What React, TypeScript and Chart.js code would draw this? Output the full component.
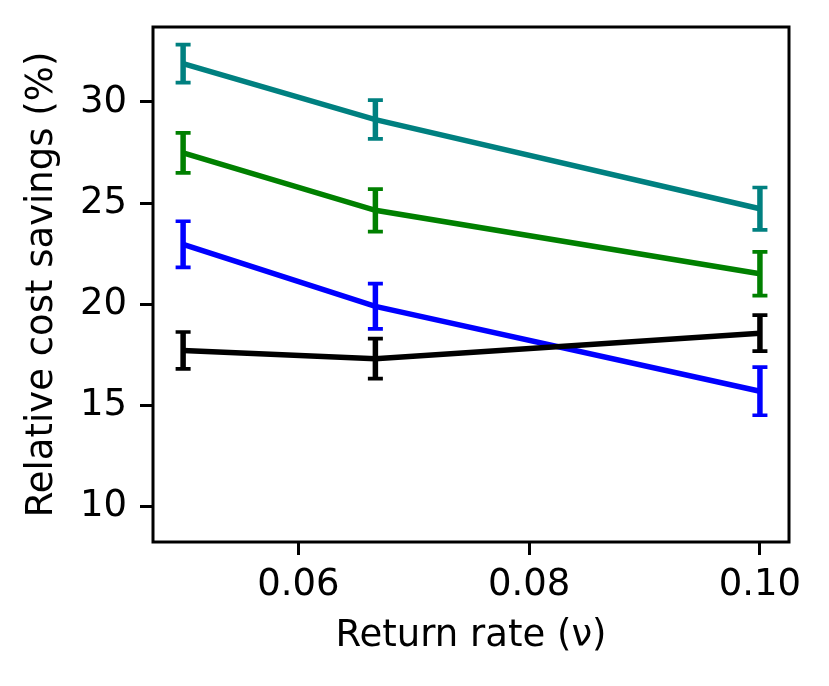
import React, { useRef, useEffect } from 'react';
import Chart from 'chart.js/auto';

// 横轴：回收率
const returnRates = [0.05, 1 / 15, 0.1];

// 各条曲线的均值
const tealSavings = [31.9, 29.13, 24.72];
const greenSavings = [27.48, 24.64, 21.5];
const blueSavings = [22.96, 19.89, 15.69];
const blackSavings = [17.71, 17.3, 18.56];

// 误差棒（±）
const tealErr = [0.94, 0.96, 1.05];
const greenErr = [0.99, 1.05, 1.08];
const blueErr = [1.14, 1.12, 1.19];
const blackErr = [0.91, 0.99, 0.89];

// 刻度
const xTicks = [0.06, 0.08, 0.1];
const yTicks = [10, 15, 20, 25, 30];

const FONT = { family: 'DejaVu Sans', size: 37 };

const series = [
  { color: '#000000', values: blackSavings, err: blackErr },
  { color: '#0000ff', values: blueSavings, err: blueErr },
  { color: '#008000', values: greenSavings, err: greenErr },
  { color: '#008080', values: tealSavings, err: tealErr },
];

// 误差棒插件：每个数据集画完后紧接着画它的误差棒
const errorBarPlugin = {
  id: 'errorBars',
  afterDatasetDraw(chart: any, args: any) {
    const s = series[args.index];
    if (!s) return;
    const { ctx, scales } = chart;
    const xs = scales.x;
    const ys = scales.y;
    ctx.save();
    ctx.strokeStyle = s.color;
    returnRates.forEach((r, i) => {
      const px = xs.getPixelForValue(r);
      const top = ys.getPixelForValue(s.values[i] + s.err[i]);
      const bot = ys.getPixelForValue(s.values[i] - s.err[i]);
      ctx.lineWidth = 5.5;
      ctx.beginPath();
      ctx.moveTo(px, top);
      ctx.lineTo(px, bot);
      ctx.stroke();
      ctx.lineWidth = 3.7;
      ctx.beginPath();
      ctx.moveTo(px - 7.5, top);
      ctx.lineTo(px + 7.5, top);
      ctx.moveTo(px - 7.5, bot);
      ctx.lineTo(px + 7.5, bot);
      ctx.stroke();
    });
    ctx.restore();
  },
};

// 四周边框
const framePlugin = {
  id: 'frame',
  afterDraw(chart: any) {
    const { ctx, chartArea } = chart;
    ctx.save();
    ctx.strokeStyle = '#000';
    ctx.lineWidth = 3;
    ctx.strokeRect(chartArea.left, chartArea.top, chartArea.right - chartArea.left, chartArea.bottom - chartArea.top);
    ctx.restore();
  },
};

const App: React.FC = () => {
  const chartRef = useRef<HTMLCanvasElement>(null);
  const chartInstance = useRef<Chart | null>(null);

  useEffect(() => {
    if (!chartRef.current) return;
    if (chartInstance.current) chartInstance.current.destroy();

    chartInstance.current = new Chart(chartRef.current, {
      type: 'line',
      data: {
        datasets: series.map((s) => ({
          data: returnRates.map((r, i) => ({ x: r, y: s.values[i] })),
          borderColor: s.color,
          borderWidth: 5.5,
          pointRadius: 0,
          tension: 0,
          fill: false,
        })),
      },
      options: {
        responsive: false,
        animation: false,
        layout: { padding: { top: 27, right: 40, left: 0, bottom: 0 } },
        plugins: { legend: { display: false }, tooltip: { enabled: false } },
        scales: {
          x: {
            type: 'linear',
            min: 0.04739,
            max: 0.10252,
            afterBuildTicks: (scale: any) => {
              scale.ticks = xTicks.map((v) => ({ value: v }));
            },
            afterFit: (scale: any) => {
              scale.height = 144;
              scale.paddingLeft = 0;
              scale.paddingRight = 0;
            },
            ticks: {
              font: FONT,
              color: '#000',
              padding: 8,
              maxRotation: 0,
              autoSkip: false,
              callback: (v: any) => Number(v).toFixed(2),
            },
            grid: { drawOnChartArea: false, tickLength: 13, tickWidth: 3, tickColor: '#000' },
            border: { display: false },
            title: {
              display: true,
              text: 'Return rate (ν)',
              font: FONT,
              color: '#000',
              padding: { top: 0, bottom: 27 },
            },
          },
          y: {
            type: 'linear',
            min: 8.23,
            max: 33.71,
            afterBuildTicks: (scale: any) => {
              scale.ticks = yTicks.map((v) => ({ value: v }));
            },
            afterFit: (scale: any) => {
              scale.width = 153;
              scale.paddingTop = 0;
              scale.paddingBottom = 0;
            },
            ticks: {
              font: FONT,
              color: '#000',
              padding: 13,
              autoSkip: false,
              callback: (v: any) => String(v),
            },
            grid: { drawOnChartArea: false, tickLength: 13, tickWidth: 3, tickColor: '#000' },
            border: { display: false },
            title: {
              display: true,
              text: 'Relative cost savings (%)',
              font: FONT,
              color: '#000',
              padding: { top: 20, bottom: 0 },
            },
          },
        },
      },
      plugins: [errorBarPlugin, framePlugin],
    } as any);

    return () => {
      if (chartInstance.current) {
        chartInstance.current.destroy();
        chartInstance.current = null;
      }
    };
  }, []);

  return (
    <div style={{ position: 'absolute', left: 0, top: 0, width: 829, height: 686, background: '#fff' }}>
      <canvas ref={chartRef} width={829} height={686}></canvas>
    </div>
  );
};

export default App;
